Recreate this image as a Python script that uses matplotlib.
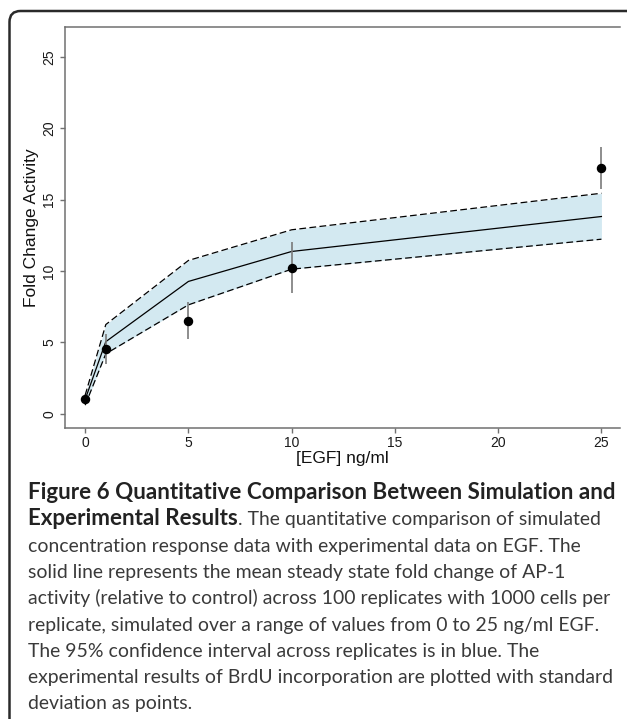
import matplotlib
matplotlib.use('Agg')
import matplotlib.pyplot as plt
from matplotlib.patches import FancyBboxPatch
from matplotlib.transforms import IdentityTransform

# ---- data ----
egf_sim = [0, 1, 5, 10, 25]
sim_mean = [1.0, 5.05, 9.27, 11.37, 13.82]
sim_upper = [1.3, 6.25, 10.74, 12.89, 15.45]
sim_lower = [0.6, 4.2, 7.63, 10.13, 12.23]

egf_exp = [0, 1, 5, 10, 25]
exp_mean = [1.0, 4.52, 6.53, 10.23, 17.2]
exp_sd = [0.1, 1.05, 1.3, 1.78, 1.48]

xticks = [0, 5, 10, 15, 20, 25]
yticks = [0, 5, 10, 15, 20, 25]
xlabel = '[EGF] ng/ml'
ylabel = 'Fold Change Activity'

caption_bold_1 = 'Figure 6 Quantitative Comparison Between Simulation and'
caption_bold_2 = 'Experimental Results'
caption_rest_2 = '. The quantitative comparison of simulated'
caption_lines = [
    'concentration response data with experimental data on EGF. The',
    'solid line represents the mean steady state fold change of AP-1',
    'activity (relative to control) across 100 replicates with 1000 cells per',
    'replicate, simulated over a range of values from 0 to 25 ng/ml EGF.',
    'The 95% confidence interval across replicates is in blue. The',
    'experimental results of BrdU incorporation are plotted with standard',
    'deviation as points.',
]

W, H = 627, 719
fig = plt.figure(figsize=(W / 100, H / 100), dpi=100)
fig.patch.set_facecolor('white')

# rounded outer border (pixel coords); right edge falls outside the image
border = FancyBboxPatch((9.5, -30), 629, H - 11 + 30,
                        boxstyle='round,pad=0,rounding_size=11',
                        transform=IdentityTransform(), fill=False,
                        edgecolor='#2a2a2a', linewidth=1.8)
fig.patches.append(border)

ax_l, ax_r, ax_t, ax_b = 64.5, 620, 27, 428
ax = fig.add_axes([ax_l / W, 1 - ax_b / H, (ax_r - ax_l) / W, (ax_b - ax_t) / H])

ax.fill_between(egf_sim, sim_lower, sim_upper, color='#d3e9f1', lw=0, zorder=1)
ax.plot(egf_sim, sim_upper, color='black', lw=0.9, ls=(0, (5.4, 2.7)), zorder=2)
ax.plot(egf_sim, sim_lower, color='black', lw=0.9, ls=(0, (5.4, 2.7)), zorder=2)
ax.plot(egf_sim, sim_mean, color='black', lw=0.9, zorder=3)

lo = [m - s for m, s in zip(exp_mean, exp_sd)]
hi = [m + s for m, s in zip(exp_mean, exp_sd)]
ax.vlines(egf_exp, lo, hi, color='#7a7a7a', lw=1.2, zorder=4)
ax.plot(egf_exp, exp_mean, 'o', color='black', ms=5.8, zorder=5)

ax.set_xlim(-1, 25.9)
ax.set_ylim(-1, 27.1)
ax.set_xticks(xticks)
ax.set_yticks(yticks)
for s in ['left', 'bottom', 'top']:
    ax.spines[s].set_color('#707070')
    ax.spines[s].set_linewidth(1.1)
ax.spines['right'].set_visible(False)
ax.tick_params(axis='both', direction='out', length=3.6, width=1.0,
               color='#707070', labelsize=10, labelcolor='#1a1a1a', pad=2.5)
for lab in ax.get_xticklabels() + ax.get_yticklabels():
    lab.set_family('Liberation Sans')
for lab in ax.get_yticklabels():
    lab.set_rotation(90)
    lab.set_va('center')

fig.text(32 / W, 1 - 228 / H, ylabel, rotation=90, ha='center', va='center',
         fontsize=12.5, family='Liberation Sans', color='#111111')
fig.text(342 / W, 1 - 458 / H, xlabel, ha='center', va='center',
         fontsize=12.5, family='Liberation Sans', color='#111111')

# ---- caption ----
renderer = fig.canvas.get_renderer()
x0 = 28
target = 616 - x0
base0 = 499
step = 26.3
cfont = 'Lato'

def ytxt(i):
    return 1 - (base0 + i * step) / H

# fit regular / bold font size to the measured line widths
probe = fig.text(0, 0, caption_lines[5], fontsize=10, family=cfont)
w = probe.get_window_extent(renderer).width
fs = 10 * target / w
probe.remove()
probe = fig.text(0, 0, caption_bold_1, fontsize=10, family=cfont, fontweight='bold')
wb = probe.get_window_extent(renderer).width
fsb = 10 * target / wb
probe.remove()

fig.text(x0 / W, ytxt(0), caption_bold_1, fontsize=fsb, family=cfont,
         fontweight='bold', color='#222222', va='baseline')
tb = fig.text(x0 / W, ytxt(1), caption_bold_2, fontsize=fsb, family=cfont,
              fontweight='bold', color='#222222', va='baseline')
ext = tb.get_window_extent(renderer)
fig.text(ext.x1 / W, ytxt(1), caption_rest_2, fontsize=fs, family=cfont,
         color='#3a3a3a', va='baseline')
for i, line in enumerate(caption_lines):
    fig.text(x0 / W, ytxt(i + 2), line, fontsize=fs, family=cfont,
             color='#3a3a3a', va='baseline')

fig.savefig('out.png', dpi=100)
